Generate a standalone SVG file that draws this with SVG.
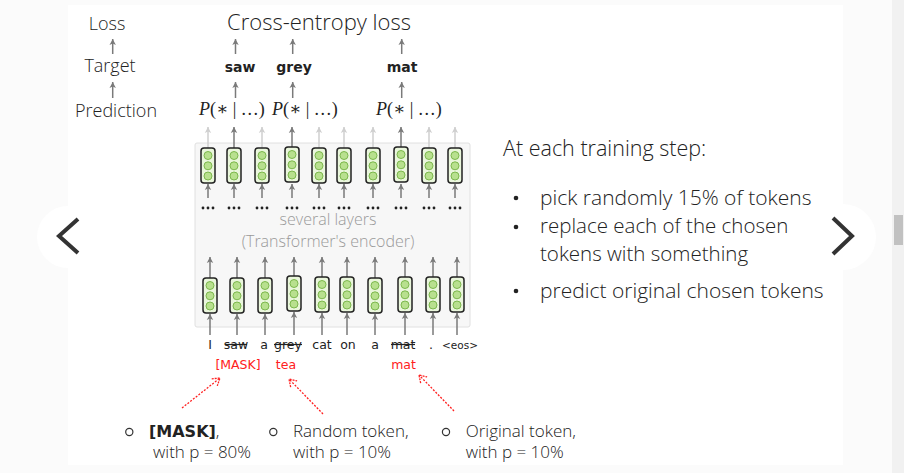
<svg xmlns="http://www.w3.org/2000/svg" width="904" height="473" viewBox="0 0 904 473">
<style>
.ui{font-family:"Open Sans","Noto Sans","Liberation Sans",sans-serif;font-weight:300;fill:#222}
.comic{font-family:"DejaVu Sans","Liberation Sans",sans-serif;fill:#222}
.math{font-family:"Liberation Serif","DejaVu Serif",serif;font-size:18px;fill:#222}
.box{fill:#eaf6dc;stroke:#222;stroke-width:1.5}
.cell{fill:#b8e08e;stroke:#7cb84c;stroke-width:1}
.dk{stroke:#7a7a7a;stroke-width:1.5;fill:none;marker-end:url(#ahd)}
.lt{stroke:#cfcfcf;stroke-width:1.5;fill:none;marker-end:url(#ahl)}
.rd{stroke:#ff2020;stroke-width:1.3;stroke-dasharray:2 1.5;fill:none;marker-end:url(#ahr)}
.dot{fill:#222}
.strike{stroke:#222;stroke-width:1.2}
.enc{font-family:"Open Sans","Noto Sans","Liberation Sans",sans-serif;font-weight:300;font-size:16px;fill:#9a9a9a}
</style>
<defs>
<marker id="ahd" markerUnits="userSpaceOnUse" markerWidth="10" markerHeight="10" refX="6" refY="5" orient="auto" viewBox="0 0 10 10"><path d="M0,1.8 L6,5 L0,8.2 L1.5,5 Z" fill="#7a7a7a"/></marker>
<marker id="ahl" markerUnits="userSpaceOnUse" markerWidth="10" markerHeight="10" refX="6" refY="5" orient="auto" viewBox="0 0 10 10"><path d="M0,1.8 L6,5 L0,8.2 L1.5,5 Z" fill="#cfcfcf"/></marker>
<marker id="ahr" markerUnits="userSpaceOnUse" markerWidth="12" markerHeight="12" refX="8" refY="6" orient="auto" viewBox="0 0 12 12"><path d="M1,1.5 L8,6 L1,10.5" fill="none" stroke="#ff2020" stroke-width="1.3" stroke-dasharray="2 1"/></marker>
<g id="vec">
<rect class="box" x="-7" y="0" width="14" height="35" rx="3"/>
<circle class="cell" cx="0" cy="7.5" r="4"/>
<circle class="cell" cx="0" cy="17.8" r="4"/>
<circle class="cell" cx="0" cy="28" r="4"/>
</g>
<g id="dots"><circle class="dot" cx="-5" cy="0" r="1.4"/><circle class="dot" cx="0" cy="0" r="1.4"/><circle class="dot" cx="5" cy="0" r="1.4"/></g>
</defs>

<!-- page background -->
<rect x="0" y="0" width="904" height="473" fill="#fbfbfb"/>
<rect x="68" y="5" width="775" height="460" fill="#ffffff"/>
<rect x="892" y="0" width="12" height="473" fill="#f1f1f1"/>
<rect x="894" y="215" width="9" height="30" fill="#c1c1c1"/>

<g id="nav-prev">
<circle cx="68" cy="237" r="31" fill="#ffffff"/>
<polyline points="78,219 59,236 78,253" fill="none" stroke="#333" stroke-width="4"/>
</g>
<g id="nav-next">
<circle cx="843" cy="237" r="33" fill="#ffffff"/>
<polyline points="833,218 852,236 833,254" fill="none" stroke="#333" stroke-width="4"/>
</g>

<g id="encoder-panel">
<rect x="195" y="143" width="275" height="184" rx="2" fill="#f7f7f7" stroke="#e0e0e0" stroke-width="1"/>
<text class="enc" x="328" y="225" text-anchor="middle">several layers</text>
<text class="enc" x="328" y="247" text-anchor="middle">(Transformer's encoder)</text>
</g>

<g id="connectors">
<!-- left column -->
<line class="dk" x1="112.7" y1="54" x2="112.7" y2="39"/>
<line class="dk" x1="112.7" y1="98" x2="112.7" y2="82"/>
<!-- target -> loss -->
<line class="dk" x1="235.5" y1="54" x2="235.5" y2="39"/>
<line class="dk" x1="292.7" y1="54" x2="292.7" y2="39"/>
<line class="dk" x1="401.7" y1="54" x2="401.7" y2="39"/>
<!-- prediction -> target -->
<line class="dk" x1="235.5" y1="98" x2="235.5" y2="82"/>
<line class="dk" x1="292.7" y1="98" x2="292.7" y2="82"/>
<line class="dk" x1="401.7" y1="98" x2="401.7" y2="82"/>
<!-- top vectors outputs -->
<line class="lt" x1="208" y1="148" x2="208" y2="127"/>
<line class="dk" x1="234" y1="148" x2="234" y2="127"/>
<line class="lt" x1="262" y1="148" x2="262" y2="127"/>
<line class="dk" x1="292" y1="147" x2="292" y2="127"/>
<line class="lt" x1="319" y1="148" x2="319" y2="127"/>
<line class="lt" x1="344" y1="148" x2="344" y2="127"/>
<line class="lt" x1="373" y1="148" x2="373" y2="127"/>
<line class="dk" x1="401" y1="147" x2="401" y2="127"/>
<line class="lt" x1="429" y1="148" x2="429" y2="127"/>
<line class="lt" x1="455" y1="148" x2="455" y2="127"/>
<!-- top vectors inputs -->
<line class="dk" x1="208" y1="198" x2="208" y2="184"/>
<line class="dk" x1="234" y1="198" x2="234" y2="184"/>
<line class="dk" x1="262" y1="198" x2="262" y2="184"/>
<line class="dk" x1="292" y1="198" x2="292" y2="184"/>
<line class="dk" x1="319" y1="198" x2="319" y2="184"/>
<line class="dk" x1="344" y1="198" x2="344" y2="184"/>
<line class="dk" x1="373" y1="198" x2="373" y2="184"/>
<line class="dk" x1="401" y1="198" x2="401" y2="184"/>
<line class="dk" x1="429" y1="198" x2="429" y2="184"/>
<line class="dk" x1="455" y1="198" x2="455" y2="184"/>
<!-- bottom vectors outputs -->
<line class="dk" x1="210" y1="278" x2="210" y2="257"/>
<line class="dk" x1="237" y1="278" x2="237" y2="257"/>
<line class="dk" x1="265" y1="278" x2="265" y2="257"/>
<line class="dk" x1="294" y1="276" x2="294" y2="257"/>
<line class="dk" x1="322" y1="277" x2="322" y2="257"/>
<line class="dk" x1="347" y1="277" x2="347" y2="257"/>
<line class="dk" x1="375" y1="278" x2="375" y2="257"/>
<line class="dk" x1="405" y1="277" x2="405" y2="257"/>
<line class="dk" x1="433" y1="277" x2="433" y2="257"/>
<line class="dk" x1="457" y1="277" x2="457" y2="257"/>
<!-- bottom vectors inputs -->
<line class="dk" x1="210" y1="335" x2="210" y2="314"/>
<line class="dk" x1="237" y1="335" x2="237" y2="314"/>
<line class="dk" x1="265" y1="335" x2="265" y2="314"/>
<line class="dk" x1="294" y1="335" x2="294" y2="312"/>
<line class="dk" x1="322" y1="335" x2="322" y2="313"/>
<line class="dk" x1="347" y1="335" x2="347" y2="313"/>
<line class="dk" x1="375" y1="335" x2="375" y2="314"/>
<line class="dk" x1="405" y1="335" x2="405" y2="313"/>
<line class="dk" x1="433" y1="335" x2="433" y2="313"/>
<line class="dk" x1="457" y1="335" x2="457" y2="313"/>
<!-- replacement arrows -->
<line class="rd" x1="182" y1="408" x2="220" y2="378"/>
<line class="rd" x1="323" y1="414" x2="289" y2="379"/>
<line class="rd" x1="454" y1="411" x2="419" y2="375"/>
</g>

<g id="row-labels">
<text class="ui" x="107" y="30" font-size="18" text-anchor="middle">Loss</text>
<text class="ui" x="110" y="72" font-size="18" text-anchor="middle">Target</text>
<text class="ui" x="116" y="117" font-size="18" text-anchor="middle">Prediction</text>
</g>

<g id="loss">
<text class="ui" x="319" y="30" font-size="22" text-anchor="middle">Cross-entropy loss</text>
</g>

<g id="targets">
<text class="comic" x="240" y="72" font-size="14" font-weight="bold" text-anchor="middle">saw</text>
<text class="comic" x="294" y="72" font-size="14" font-weight="bold" text-anchor="middle">grey</text>
<text class="comic" x="402" y="72" font-size="14" font-weight="bold" text-anchor="middle">mat</text>
</g>

<g id="predictions">
<text class="math" x="199" y="115"><tspan font-style="italic">P</tspan>(∗ | …)</text>
<text class="math" x="272" y="115"><tspan font-style="italic">P</tspan>(∗ | …)</text>
<text class="math" x="376" y="115"><tspan font-style="italic">P</tspan>(∗ | …)</text>
</g>

<g id="top-vectors">
<use href="#vec" x="208" y="148"/>
<use href="#vec" x="234" y="148"/>
<use href="#vec" x="262" y="148"/>
<use href="#vec" x="292" y="147"/>
<use href="#vec" x="319" y="148"/>
<use href="#vec" x="344" y="148"/>
<use href="#vec" x="373" y="148"/>
<use href="#vec" x="401" y="147"/>
<use href="#vec" x="429" y="148"/>
<use href="#vec" x="455" y="148"/>
</g>

<g id="layer-dots">
<use href="#dots" x="208" y="208"/>
<use href="#dots" x="234" y="208"/>
<use href="#dots" x="262" y="208"/>
<use href="#dots" x="292" y="208"/>
<use href="#dots" x="319" y="208"/>
<use href="#dots" x="344" y="208"/>
<use href="#dots" x="373" y="208"/>
<use href="#dots" x="401" y="208"/>
<use href="#dots" x="429" y="208"/>
<use href="#dots" x="455" y="208"/>
</g>

<g id="bottom-vectors">
<use href="#vec" x="210" y="278"/>
<use href="#vec" x="237" y="278"/>
<use href="#vec" x="265" y="278"/>
<use href="#vec" x="294" y="276"/>
<use href="#vec" x="322" y="277"/>
<use href="#vec" x="347" y="277"/>
<use href="#vec" x="375" y="278"/>
<use href="#vec" x="405" y="277"/>
<use href="#vec" x="433" y="277"/>
<use href="#vec" x="457" y="277"/>
</g>

<g id="tokens">
<text class="comic" x="210" y="349" font-size="12.5" text-anchor="middle">I</text>
<text class="comic" x="236" y="349" font-size="12.5" text-anchor="middle">saw</text>
<line class="strike" x1="225" y1="344.5" x2="247" y2="344.5"/>
<text class="comic" x="264" y="349" font-size="12.5" text-anchor="middle">a</text>
<text class="comic" x="288" y="349" font-size="12.5" text-anchor="middle">grey</text>
<line class="strike" x1="274" y1="344.5" x2="302" y2="344.5"/>
<text class="comic" x="322" y="349" font-size="12.5" text-anchor="middle">cat</text>
<text class="comic" x="348" y="349" font-size="12.5" text-anchor="middle">on</text>
<text class="comic" x="375" y="349" font-size="12.5" text-anchor="middle">a</text>
<text class="comic" x="403" y="349" font-size="12.5" text-anchor="middle">mat</text>
<line class="strike" x1="391" y1="344.5" x2="415" y2="344.5"/>
<text class="comic" x="431" y="349" font-size="12.5" text-anchor="middle">.</text>
<text class="comic" x="460" y="349" font-size="10.5" text-anchor="middle">&lt;eos&gt;</text>
</g>

<g id="replacements">
<text class="comic" x="238" y="369" font-size="12.5" text-anchor="middle" style="fill:#ff2020">[MASK]</text>
<text class="comic" x="286" y="369" font-size="12.5" text-anchor="middle" style="fill:#ff2020">tea</text>
<text class="comic" x="403.5" y="369" font-size="12.5" text-anchor="middle" style="fill:#ff2020">mat</text>
</g>

<g id="legend-mask">
<circle cx="129.3" cy="432" r="3.6" fill="none" stroke="#333" stroke-width="1.2"/>
<text x="149" y="437"><tspan class="comic" font-size="16" font-weight="bold">[MASK]</tspan><tspan class="ui" font-size="17">,</tspan></text>
<text class="ui" x="153" y="458" font-size="17">with p = 80%</text>
</g>
<g id="legend-random">
<circle cx="273.3" cy="432" r="3.6" fill="none" stroke="#333" stroke-width="1.2"/>
<text class="ui" x="293" y="437" font-size="17">Random token,</text>
<text class="ui" x="293" y="458" font-size="17">with p = 10%</text>
</g>
<g id="legend-original">
<circle cx="446" cy="432" r="3.6" fill="none" stroke="#333" stroke-width="1.2"/>
<text class="ui" x="465.7" y="437" font-size="17">Original token,</text>
<text class="ui" x="465.7" y="458" font-size="17">with p = 10%</text>
</g>

<g id="steps">
<text class="ui" x="503" y="156" font-size="21.5">At each training step:</text>
<circle cx="516" cy="198" r="2.3" fill="#222"/>
<text class="ui" x="540" y="205" font-size="21">pick randomly 15% of tokens</text>
<circle cx="516" cy="227" r="2.3" fill="#222"/>
<text class="ui" x="540" y="233" font-size="20.5">replace each of the chosen</text>
<text class="ui" x="540" y="261" font-size="20.5">tokens with something</text>
<circle cx="516" cy="291" r="2.3" fill="#222"/>
<text class="ui" x="540" y="298" font-size="21">predict original chosen tokens</text>
</g>
</svg>
